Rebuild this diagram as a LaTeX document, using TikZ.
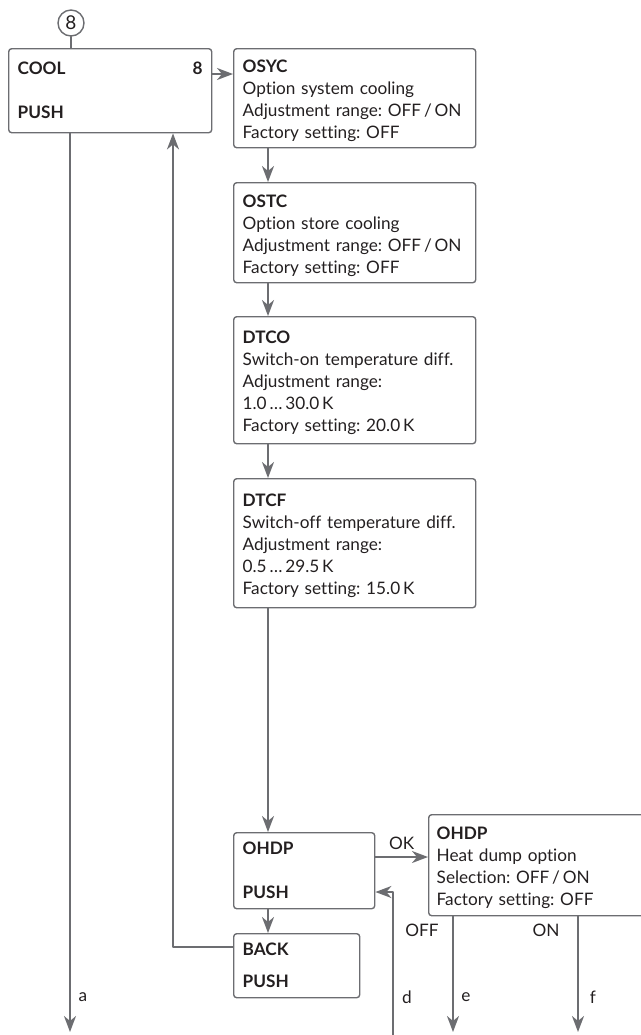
\documentclass[tikz,border=0pt]{standalone}
\usepackage{fontspec}
\setmainfont[Ligatures=NoCommon]{Lato}
\usepackage{tikz}
\usetikzlibrary{arrows.meta}

\definecolor{linegray}{RGB}{108,109,113}
\definecolor{textdark}{RGB}{35,31,32}
\frenchspacing

\begin{document}
\begin{tikzpicture}[x=0.5pt,y=-0.5pt,line cap=round,line join=round,
  menubox/.style={draw=linegray,line width=0.7pt,rounded corners=1.5pt,anchor=north west,
    align=left,inner xsep=4.5pt,inner ysep=0pt,text=textdark,font=\fontsize{8.6}{11}\selectfont},
  flow/.style={draw=linegray,line width=1pt,-{Stealth[length=8pt,width=6pt,inset=2.5pt]}},
  plain/.style={draw=linegray,line width=1pt},
  lbl/.style={text=textdark,font=\fontsize{8.6}{11}\selectfont,inner sep=1pt}]
  \clip (0,0) rectangle (641,1035);

  \node[draw=linegray,line width=0.7pt,circle,minimum size=13pt,inner sep=0pt,
    text=textdark,font=\fontsize{9.5}{11}\selectfont] (num8) at (71,23) {8};

  \node[menubox,minimum width=101.5pt,text width=92.5pt,minimum height=42pt] (cool) at (8,48)
    {\textbf{COOL}\hfill\textbf{8}\hspace*{7.5pt}\\ \mbox{}\\ \textbf{PUSH}};
  \node[menubox,minimum width=121pt,text width=112pt,minimum height=49.5pt] (osyc) at (233,48)
    {\rule{0pt}{9pt}\textbf{OSYC}\\ Option system cooling\\ Adjustment range: OFF\,/\,ON\\ Factory setting: OFF};
  \node[menubox,minimum width=121pt,text width=112pt,minimum height=50pt] (ostc) at (233,182)
    {\rule{0pt}{9pt}\textbf{OSTC}\\ Option store cooling\\ Adjustment range: OFF\,/\,ON\\ Factory setting: OFF};
  \node[menubox,minimum width=121pt,text width=112pt,minimum height=63.5pt] (dtco) at (233,316)
    {\rule{0pt}{9pt}\textbf{DTCO}\\ Switch-on temperature diff.\\ Adjustment range:\\ 1.0\,…\,30.0\,K\\ Factory setting: 20.0\,K};
  \node[menubox,minimum width=121pt,text width=112pt,minimum height=64.5pt] (dtcf) at (233,478)
    {\rule{0pt}{9pt}\textbf{DTCF}\\ Switch-off temperature diff.\\ Adjustment range:\\ 0.5\,…\,29.5\,K\\ Factory setting: 15.0\,K};
  \node[menubox,minimum width=70.5pt,text width=61.5pt,minimum height=38pt] (ohdp) at (233,832)
    {\textbf{OHDP}\\ \mbox{}\\ \textbf{PUSH}};
  \node[menubox,minimum width=63pt,text width=54pt,minimum height=32pt] (back) at (233,933)
    {\textbf{BACK}\\[5pt] \textbf{PUSH}};
  \node[menubox,inner xsep=4pt,minimum width=116pt,text width=108pt,minimum height=50.5pt] (ohdpset) at (428,814)
    {\rule{0pt}{9pt}\textbf{OHDP}\\ Heat dump option\\ Selection: OFF\,/\,ON\\ Factory setting: OFF};

  % loose ends
  \coordinate (aend) at (70,1032);
  \coordinate (dend) at (393,1036);
  \coordinate (eend) at (453,1032);
  \coordinate (fend) at (578,1032);

  \draw[plain] (num8.south) -- (num8.south |- cool.north);
  \draw[flow] ([yshift=-13pt]cool.north east) -- ([yshift=-13pt]cool.north east -| osyc.west);
  \draw[flow] ([xshift=17.5pt]osyc.south west) -- ([xshift=17.5pt]ostc.north west);
  \draw[flow] ([xshift=17.5pt]ostc.south west) -- ([xshift=17.5pt]dtco.north west);
  \draw[flow] ([xshift=17.5pt]dtco.south west) -- ([xshift=17.5pt]dtcf.north west);
  \draw[flow] ([xshift=17.5pt]dtcf.south west) -- ([xshift=17.5pt]ohdp.north west);
  \draw[flow] ([xshift=17.5pt]ohdp.south west) -- ([xshift=17.5pt]back.north west);
  \draw[flow] ([yshift=-7pt]back.north west) -| ([xshift=82.5pt]cool.south west);
  \draw[flow] ([xshift=31pt]cool.south west) -- (aend);
  \draw[flow] ([yshift=-12.5pt]ohdp.north east) -- ([yshift=-12.5pt]ohdp.north east -| ohdpset.west)
    node[lbl,midway,above=2pt] (lblok) {OK};
  \draw[flow] (dend) |- ([yshift=-30pt]ohdp.north east);
  \draw[flow] ([xshift=12.5pt]ohdpset.south west) -- (eend);
  \draw[flow] ([xshift=75pt]ohdpset.south west) -- (fend);

  \node[lbl] (lbla) at (83,997) {a};
  \node[lbl] (lbld) at (407,997) {d};
  \node[lbl] (lble) at (466,997) {e};
  \node[lbl] (lblf) at (593,997) {f};
  \node[lbl] (lbloff) at (422,930) {OFF};
  \node[lbl] (lblon) at (546,930) {ON};
\end{tikzpicture}
\end{document}
